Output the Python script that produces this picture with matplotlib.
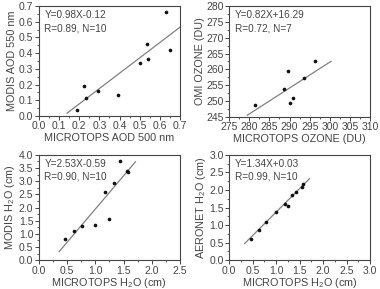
import numpy as np
import matplotlib.pyplot as plt
from matplotlib.ticker import MultipleLocator, FormatStrFormatter

plt.rcParams['font.family'] = ['Liberation Sans', 'DejaVu Sans']
plt.rcParams['font.size'] = 7
plt.rcParams['mathtext.fontset'] = 'custom'
plt.rcParams['mathtext.rm'] = 'Liberation Sans'
plt.rcParams['mathtext.it'] = 'Liberation Sans:italic'

# panel a: AOD
aod_x = [0.187, 0.225, 0.233, 0.292, 0.390, 0.502, 0.538, 0.542, 0.629, 0.652]
aod_y = [0.036, 0.191, 0.113, 0.159, 0.134, 0.335, 0.459, 0.361, 0.665, 0.418]
aod_fit = (0.98, -0.12, 0.14, 0.70)

# panel b: ozone
oz_x = [281.4, 288.7, 289.6, 290.1, 290.8, 293.6, 296.4]
oz_y = [248.8, 253.9, 259.5, 249.4, 250.9, 257.1, 262.5]
oz_fit = (0.82, 16.29, 279.5, 300.3)

# panel c: MODIS water vapour
wv_x = [0.47, 0.63, 0.77, 0.99, 1.25, 1.17, 1.33, 1.43, 1.56, 1.58]
wv_y = [0.82, 1.12, 1.28, 1.33, 1.55, 2.58, 2.95, 3.78, 3.40, 3.34]
wv_fit = (2.53, -0.59, 0.36, 1.71)

# panel d: AERONET water vapour
ae_x = [0.47, 0.64, 0.78, 1.00, 1.18, 1.25, 1.33, 1.43, 1.56, 1.58]
ae_y = [0.60, 0.87, 1.10, 1.36, 1.60, 1.53, 1.85, 1.94, 2.08, 2.18]
ae_fit = (1.34, 0.03, 0.33, 1.71)

panels = [
    dict(x=aod_x, y=aod_y, fit=aod_fit, xlim=(0, 0.7), ylim=(0, 0.7), step=(0.1, 0.1),
         fmt=('%.1f', '%.1f'), eq='Y=0.98X-0.12', r='R=0.89, N=10',
         xlabel='MICROTOPS AOD 500 nm', ylabel='MODIS AOD 550 nm',
         pos=[0.102, 0.599, 0.372, 0.380], xpad=1),
    dict(x=oz_x, y=oz_y, fit=oz_fit, xlim=(275, 310), ylim=(245, 280), step=(5, 5),
         fmt=('%d', '%d'), eq='Y=0.82X+16.29', r='R=0.72, N=7',
         xlabel='MICROTOPS OZONE (DU)', ylabel='OMI OZONE (DU)',
         pos=[0.603, 0.596, 0.371, 0.383], xpad=1),
    dict(x=wv_x, y=wv_y, fit=wv_fit, xlim=(0, 2.5), ylim=(0, 4.0), step=(0.5, 0.5),
         fmt=('%.1f', '%.1f'), eq='Y=2.53X-0.59', r='R=0.90, N=10',
         xlabel='MICROTOPS H$_2$O (cm)', ylabel='MODIS H$_2$O (cm)',
         pos=[0.102, 0.100, 0.372, 0.364], xpad=0),
    dict(x=ae_x, y=ae_y, fit=ae_fit, xlim=(0, 3.0), ylim=(0, 3.0), step=(0.5, 0.5),
         fmt=('%.1f', '%.1f'), eq='Y=1.34X+0.03', r='R=0.99, N=10',
         xlabel='MICROTOPS H$_2$O (cm)', ylabel='AERONET H$_2$O (cm)',
         pos=[0.603, 0.100, 0.371, 0.364], xpad=0),
]

fig = plt.figure(figsize=(3.8, 2.89), dpi=100)
tc = '#444444'

for p in panels:
    ax = fig.add_axes(p['pos'])
    ax.scatter(p['x'], p['y'], s=7, color='#111111', zorder=3, linewidths=0)
    a, b, x0, x1 = p['fit']
    xx = np.array([x0, x1])
    ax.plot(xx, a * xx + b, color='#808080', lw=0.9)
    ax.set_xlim(*p['xlim'])
    ax.set_ylim(*p['ylim'])
    ax.xaxis.set_major_locator(MultipleLocator(p['step'][0]))
    ax.yaxis.set_major_locator(MultipleLocator(p['step'][1]))
    ax.xaxis.set_minor_locator(MultipleLocator(p['step'][0] / 2))
    ax.yaxis.set_minor_locator(MultipleLocator(p['step'][1] / 2))
    ax.xaxis.set_major_formatter(FormatStrFormatter(p['fmt'][0]))
    ax.yaxis.set_major_formatter(FormatStrFormatter(p['fmt'][1]))
    ax.tick_params(which='major', direction='out', length=3, width=0.7,
                   colors=tc, labelsize=7.5, pad=1)
    ax.tick_params(which='minor', direction='out', length=1.5, width=0.6, colors=tc)
    for s in ax.spines.values():
        s.set_color('#444444')
        s.set_linewidth(0.8)
    ax.text(0.04, 0.96, p['eq'], transform=ax.transAxes, va='top', ha='left',
            fontsize=7.2, color=tc)
    ax.text(0.04, 0.84, p['r'], transform=ax.transAxes, va='top', ha='left',
            fontsize=7.2, color=tc)
    ax.set_xlabel(p['xlabel'], fontsize=7.8, color=tc, labelpad=p['xpad'])
    ax.set_ylabel(p['ylabel'], fontsize=7.8, color=tc, labelpad=1)

fig.savefig('out.png', dpi=100)
